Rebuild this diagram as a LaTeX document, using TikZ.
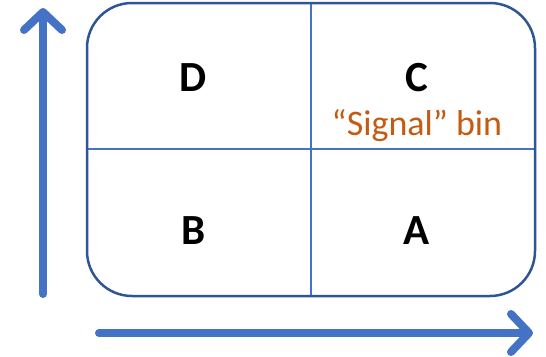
\documentclass[tikz,border=0pt]{standalone}
\usepackage{fontspec}
\setmainfont{Carlito}
\usetikzlibrary{arrows.meta}
\definecolor{boxblue}{HTML}{2F5597}
\definecolor{axisblue}{HTML}{4472C4}
\definecolor{sigorange}{HTML}{C55A11}
\tikzset{
  axis/.style={draw=axisblue, line width=8pt, line cap=round,
    -{Straight Barb[length=18pt 0 0, width=38pt 0 0, round]}},
  frame/.style={draw=boxblue, line width=2.5pt, rounded corners=45pt},
  divider/.style={draw=axisblue, line width=1.3pt},
  binlabel/.style={font=\bfseries\fontsize{43}{43}\selectfont, text=black, inner sep=0pt},
  siglabel/.style={font=\fontsize{36}{36}\selectfont, text=sigorange, inner sep=0pt, anchor=base}
}
\begin{document}
\begin{tikzpicture}[x=1pt,y=-1pt]
\useasboundingbox (0,0) rectangle (546,356);
% axes
\coordinate (ybot) at (43,294);
\coordinate (ytop) at (43,8);
\coordinate (xleft) at (99,333);
\coordinate (xright) at (533,333);
\draw[axis] (ybot) -- (ytop);
\draw[axis] (xleft) -- (xright);
% box
\coordinate (tl) at (87,3);
\coordinate (br) at (535,296);
\coordinate (vtop) at (311,3);
\coordinate (vbot) at (311,296);
\coordinate (hl) at (87,149);
\coordinate (hr) at (535,149);
\draw[divider] (vtop) -- (vbot);
\draw[divider] (hl) -- (hr);
\draw[frame] (tl) rectangle (br);
% labels
\node[binlabel] (D) at (193,78) {D};
\node[binlabel] (C) at (417,78) {C};
\node[siglabel] (sig) at (417,135) {“Signal” bin};
\node[binlabel] (B) at (194,231) {B};
\node[binlabel] (A) at (417,231) {A};
\end{tikzpicture}
\end{document}
